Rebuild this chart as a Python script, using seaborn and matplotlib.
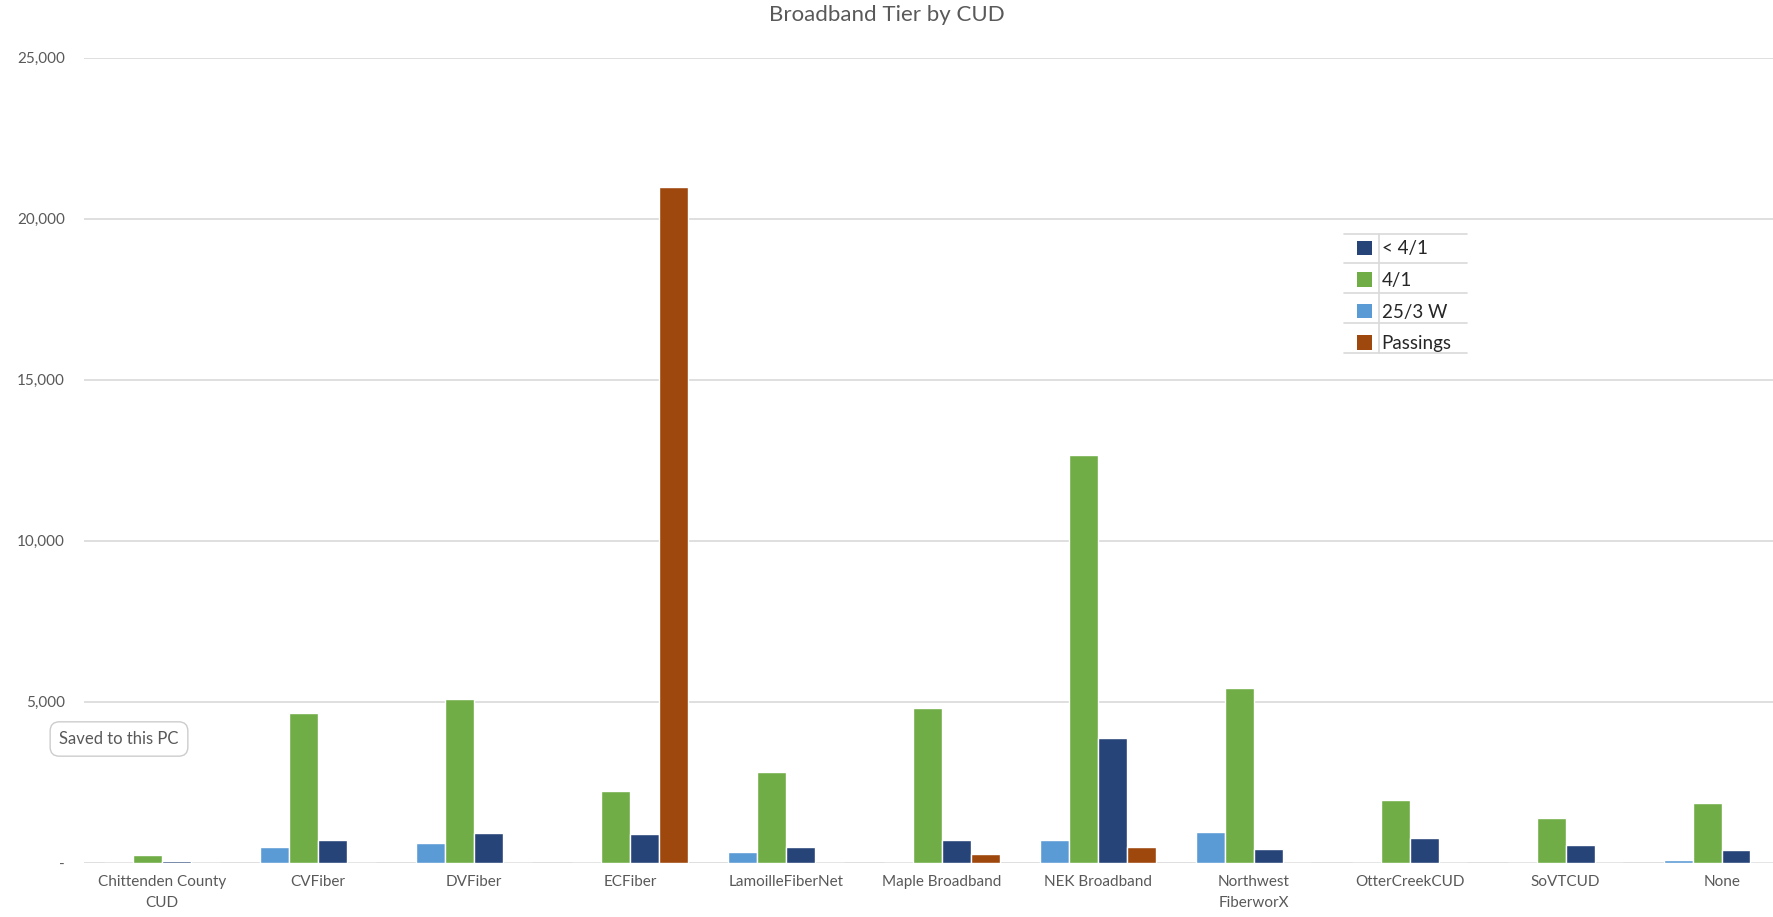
import pandas as pd
import matplotlib.pyplot as plt
import seaborn as sns
from matplotlib.patches import Patch
from matplotlib.lines import Line2D
from matplotlib.ticker import FuncFormatter

# Values
cuds = ['Chittenden County\nCUD', 'CVFiber', 'DVFiber', 'ECFiber', 'LamoilleFiberNet',
        'Maple Broadband', 'NEK Broadband', 'Northwest\nFiberworX', 'OtterCreekCUD',
        'SoVTCUD', 'None']
tier_25_3w = [0, 480, 620, 0, 340, 0, 700, 945, 0, 0, 105]
tier_4_1 = [245, 4650, 5100, 2230, 2830, 4820, 12680, 5440, 1960, 1400, 1860]
tier_lt_4_1 = [65, 705, 930, 885, 480, 705, 3865, 425, 765, 570, 390]
passings = [0, 0, 0, 21000, 0, 285, 485, 0, 0, 0, 0]

series = {'25/3 W': tier_25_3w, '4/1': tier_4_1, '< 4/1': tier_lt_4_1, 'Passings': passings}
colors = {'< 4/1': '#264478', '4/1': '#70AD47', '25/3 W': '#5B9BD5', 'Passings': '#9E480E'}
legend_order = ['< 4/1', '4/1', '25/3 W', 'Passings']

rows = []
for name, vals in series.items():
    for cud, v in zip(cuds, vals):
        rows.append({'CUD': cud, 'Tier': name, 'Count': v})
df = pd.DataFrame(rows)

sns.set_style('white')
plt.rcParams['font.family'] = ['Lato', 'DejaVu Sans']
grey = '#595959'

fig = plt.figure(figsize=(17.73, 9.17), dpi=100)
ax = fig.add_axes([0.0475, 0.059, 0.9675, 0.878])

sns.barplot(data=df, x='CUD', y='Count', hue='Tier', hue_order=list(series.keys()),
            palette=colors, width=0.74, saturation=1, legend=False, ax=ax)

ax.set_xlim(-0.5, len(cuds) - 0.5)
ax.set_ylim(0, 25000)
ax.set_yticks(range(0, 25001, 5000))
ax.yaxis.set_major_formatter(FuncFormatter(lambda v, p: '-' if v == 0 else f'{int(v):,}'))
ax.grid(axis='y', color='#d9d9d9', linewidth=1.2)
ax.set_axisbelow(True)
for s in ax.spines.values():
    s.set_visible(False)
ax.set_xlabel('')
ax.set_ylabel('')
ax.tick_params(axis='y', length=0, pad=14, labelsize=11, labelcolor=grey)
ax.tick_params(axis='x', length=0, pad=9, labelsize=11, labelcolor=grey)
for lbl in ax.get_xticklabels():
    lbl.set_linespacing(1.6)

fig.suptitle('Broadband Tier by CUD', y=0.995, fontsize=16, color=grey)

# legend laid out like the table-style legend of the original
handles = [Patch(facecolor=colors[k], edgecolor='none') for k in legend_order]
fig.legend(handles, legend_order, loc='upper left', bbox_to_anchor=(0.7655, 0.738),
           frameon=False, fontsize=13.5, handlelength=0.8, handleheight=0.8,
           handletextpad=0.5, labelspacing=0.78, borderpad=0, borderaxespad=0)
W, H = 1773, 917
for yy in [234, 263, 293, 323, 353]:
    fig.add_artist(Line2D([1344 / W, 1467 / W], [1 - yy / H, 1 - yy / H], color='#d9d9d9', lw=1.2))
fig.add_artist(Line2D([1379 / W, 1379 / W], [1 - 234 / H, 1 - 353 / H], color='#d9d9d9', lw=1.2))

# tooltip left on the screenshot
fig.text(119 / W, 1 - 739 / H, 'Saved to this PC', ha='center', va='center', fontsize=12, color=grey,
         bbox=dict(boxstyle='round,pad=0.55', facecolor='white', edgecolor='#cccccc'))

fig.savefig('out.png', dpi=100)
